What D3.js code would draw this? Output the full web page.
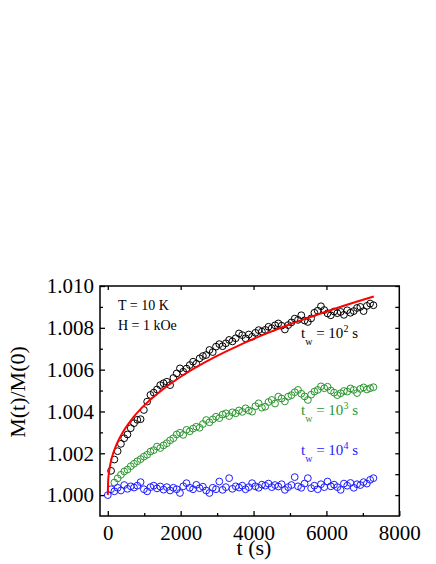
<!DOCTYPE html>
<html>
<head>
<meta charset="utf-8">
<script src="https://cdn.jsdelivr.net/npm/d3@7.9.0/dist/d3.min.js"></script>
<style>
  body { margin: 0; background: #fff; }
  svg { display: block; font-family: "Liberation Serif", "DejaVu Serif", serif; }
</style>
</head>
<body>
<svg id="chart" width="436" height="564"></svg>
<script>
// time grid shared by the three relaxation runs (s)
const times = [0, 90, 180, 270, 360, 450, 540, 630, 720, 810, 900, 990, 1080, 1170, 1260, 1350,
  1440, 1530, 1620, 1710, 1800, 1890, 1980, 2070, 2160, 2250, 2340, 2430, 2520, 2610, 2700, 2790,
  2880, 2970, 3060, 3150, 3240, 3330, 3420, 3510, 3600, 3690, 3780, 3870, 3960, 4050, 4140, 4230,
  4320, 4410, 4500, 4590, 4680, 4770, 4860, 4950, 5040, 5130, 5220, 5310, 5400, 5490, 5580, 5670,
  5760, 5850, 5940, 6030, 6120, 6210, 6300, 6390, 6480, 6570, 6660, 6750, 6840, 6930, 7020, 7110,
  7200, 7290];

// tw = 10^2 s
const m100 = [null, 1.00116, 1.0017, 1.0021, 1.00245, 1.00272, 1.0029, 1.0032, 1.00344, 1.0036,
  1.00363, 1.00407, 1.00447, 1.00479, 1.0049, 1.00505, 1.00526, 1.00535, 1.00542, 1.00526, 1.0056,
  1.00582, 1.00606, 1.0059, 1.00605, 1.00622, 1.00638, 1.00628, 1.00654, 1.00665, 1.0067, 1.00694,
  1.00684, 1.0071, 1.00722, 1.00712, 1.00726, 1.00742, 1.00735, 1.0075, 1.00773, 1.00765, 1.0075,
  1.00768, 1.00757, 1.00776, 1.00789, 1.00782, 1.0079, 1.00805, 1.00798, 1.00812, 1.00821, 1.0081,
  1.00792, 1.00813, 1.00826, 1.00844, 1.00838, 1.0086, 1.00835, 1.00828, 1.00845, 1.00872, 1.00882,
  1.00903, 1.00885, 1.00869, 1.0086, 1.00878, 1.0087, 1.00876, 1.00862, 1.00884, 1.00872, 1.0088,
  1.00895, 1.009, 1.0088, 1.00905, 1.00916, 1.00908];

// tw = 10^3 s
const m1000 = [null, null, 1.0006, 1.0008, 1.00097, 1.00113, 1.00122, 1.00138, 1.0015, 1.00162,
  1.00172, 1.00184, 1.00193, 1.00208, 1.00215, 1.00232, 1.00225, 1.00238, 1.00248, 1.00262, 1.00272,
  1.0029, 1.00298, 1.00288, 1.00312, 1.00305, 1.00318, 1.00327, 1.00322, 1.0034, 1.00359, 1.00348,
  1.00362, 1.00375, 1.00368, 1.00385, 1.00391, 1.00378, 1.00396, 1.00391, 1.00405, 1.00398, 1.00415,
  1.00405, 1.00399, 1.00425, 1.00439, 1.00418, 1.00423, 1.00445, 1.00455, 1.00438, 1.00471, 1.00462,
  1.00448, 1.00471, 1.00478, 1.00492, 1.00503, 1.00485, 1.00472, 1.00455, 1.0048, 1.00495, 1.00503,
  1.0052, 1.00511, 1.00518, 1.005, 1.0049, 1.00478, 1.00487, 1.00498, 1.00495, 1.0051, 1.00503,
  1.00488, 1.00508, 1.00515, 1.00505, 1.00511, 1.00516];

// tw = 10^4 s
const m10000 = [1.0, 1.00028, 1.00018, 1.00035, 1.00022, 1.00048, 1.0003, 1.00042, 1.00036, 1.00045,
  1.00062, 1.00028, 1.00018, 1.00038, 1.00045, 1.00032, 1.00041, 1.00026, 1.00038, 1.00022, 1.00035,
  1.00028, 1.0001, 1.00042, 1.00057, 1.00035, 1.00028, 1.00049, 1.00033, 1.0004, 1.00022, 1.0001,
  1.00035, 1.00028, 1.00065, 1.00025, 1.00038, 1.00081, 1.0003, 1.00042, 1.00036, 1.00045, 1.00028,
  1.00038, 1.00057, 1.00042, 1.00035, 1.0005, 1.00045, 1.00055, 1.00038, 1.00048, 1.00041, 1.00052,
  1.00025, 1.00038, 1.00048, 1.00086, 1.00042, 1.00035, 1.00055, 1.00081, 1.00033, 1.00045, 1.00028,
  1.00052, 1.00038, 1.00065, 1.00042, 1.0005, 1.00038, 1.00025, 1.00055, 1.00045, 1.00058, 1.00035,
  1.00052, 1.00048, 1.00062, 1.00055, 1.00073, 1.00081];

// fit to the tw = 10^2 s run
const fitT = [0, 10, 25, 50, 100, 150, 200, 300, 400, 700, 1000, 1500, 2000, 2500, 3000, 3500,
  4000, 4500, 5000, 5500, 6000, 6500, 7300];
const fitM = [1.0, 1.00068, 1.00098, 1.00129, 1.00171, 1.00201, 1.00225, 1.00265, 1.00297, 1.00372,
  1.00429, 1.00504, 1.00566, 1.00619, 1.00666, 1.00708, 1.00747, 1.00783, 1.00817, 1.00848, 1.00878,
  1.00907, 1.0095];

const xTicks = [0, 2000, 4000, 6000, 8000];
const yTicks = [1.000, 1.002, 1.004, 1.006, 1.008, 1.010];

const svg = d3.select('#chart');
const plotL = 100, plotR = 399.3, plotT = 286, plotB = 516;

const x = d3.scaleLinear().domain([-214, 8000]).range([plotL, plotR]);
const y = d3.scaleLinear().domain([0.999, 1.010]).range([plotB, plotT]);

svg.append('clipPath').attr('id', 'plot')
  .append('rect').attr('x', plotL).attr('y', plotT)
  .attr('width', plotR - plotL).attr('height', plotB - plotT);

// ticks, all pointing inward
const axB = d3.axisBottom(x).tickValues(xTicks).tickSize(-5).tickFormat(d3.format('d')).tickPadding(9);
const axBm = d3.axisBottom(x).tickValues([1000, 3000, 5000, 7000]).tickSize(-3).tickFormat('');
const axT = d3.axisTop(x).tickValues([0, 2000, 4000, 6000]).tickSize(-4).tickFormat('');
const axL = d3.axisLeft(y).tickValues(yTicks).tickSize(-5).tickFormat(d3.format('.3f')).tickPadding(6);
const axLm = d3.axisLeft(y).tickValues([1.001, 1.003, 1.005, 1.007, 1.009]).tickSize(-3).tickFormat('');
const axR = d3.axisRight(y).tickValues(d3.range(0, 11).map(i => +(1.0 + i * 0.001).toFixed(3))).tickSize(-4).tickFormat('');

function styleAxis(g) {
  g.select('.domain').remove();
  g.selectAll('line').attr('stroke', '#000').attr('stroke-width', 1.3);
  g.selectAll('text').attr('fill', '#000').attr('font-size', 21).attr('font-family', 'Liberation Serif');
}

svg.append('g').attr('transform', `translate(0,${plotB})`).call(axB).call(styleAxis);
svg.append('g').attr('transform', `translate(0,${plotB})`).call(axBm).call(styleAxis);
svg.append('g').attr('transform', `translate(0,${plotT})`).call(axT).call(styleAxis);
svg.append('g').attr('transform', `translate(${plotL},0)`).call(axL).call(styleAxis);
svg.append('g').attr('transform', `translate(${plotL},0)`).call(axLm).call(styleAxis);
svg.append('g').attr('transform', `translate(${plotR},0)`).call(axR).call(styleAxis);

// frame
svg.append('rect')
  .attr('x', plotL).attr('y', plotT)
  .attr('width', plotR - plotL).attr('height', plotB - plotT)
  .attr('fill', 'none').attr('stroke', '#000').attr('stroke-width', 1.5);

const plot = svg.append('g').attr('clip-path', 'url(#plot)');

const series = [
  { vals: m100, color: '#000000' },
  { vals: m1000, color: '#2a962e' },
  { vals: m10000, color: '#1c1cff' }
];

series.forEach(s => {
  const pts = times.map((t, i) => [t, s.vals[i]]).filter(d => d[1] != null);
  plot.append('g').selectAll('circle')
    .data(pts)
    .join('circle')
    .attr('cx', d => x(d[0]))
    .attr('cy', d => y(d[1]))
    .attr('r', 3.4)
    .attr('fill', 'none')
    .attr('stroke', s.color)
    .attr('stroke-width', 1);
});

const fitLine = d3.line()
  .x((d, i) => x(fitT[i]))
  .y(d => y(d))
  .curve(d3.curveMonotoneX);

plot.append('path')
  .attr('d', fitLine(fitM))
  .attr('fill', 'none')
  .attr('stroke', '#ff0000')
  .attr('stroke-width', 2);

// condition labels
svg.append('text').attr('x', 118).attr('y', 310).attr('font-size', 14).text('T = 10 K');
svg.append('text').attr('x', 118).attr('y', 330).attr('font-size', 14).text('H = 1 kOe');

// waiting time labels
const twLabels = [
  { exp: '2', color: '#000000', y: 338 },
  { exp: '3', color: '#2a962e', y: 415 },
  { exp: '4', color: '#1c1cff', y: 455 }
];

twLabels.forEach(l => {
  const txt = svg.append('text')
    .attr('x', 301).attr('y', l.y)
    .attr('font-size', 15).attr('fill', l.color);
  txt.append('tspan').text('t');
  txt.append('tspan').attr('dy', 7).attr('font-size', 10).text('w');
  txt.append('tspan').attr('dy', -7).text(' = 10');
  txt.append('tspan').attr('dy', -6).attr('font-size', 10).text(l.exp);
  txt.append('tspan').attr('dy', 6).text(' s');
});

// axis titles
svg.append('text')
  .attr('x', 254).attr('y', 555)
  .attr('text-anchor', 'middle').attr('font-size', 22)
  .text('t (s)');

svg.append('text')
  .attr('transform', 'translate(25,392) rotate(-90)')
  .attr('text-anchor', 'middle').attr('font-size', 22)
  .text('M(t)/M(0)');
</script>
</body>
</html>
